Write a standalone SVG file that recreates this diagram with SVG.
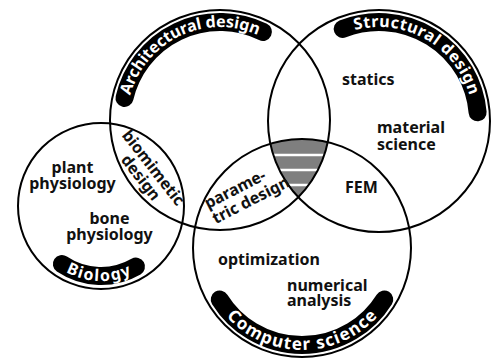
<svg xmlns="http://www.w3.org/2000/svg" width="499" height="360" viewBox="0 0 499 360">
<style>
.ring{fill:none;stroke:#000;stroke-width:2}
.band{fill:none;stroke:#000;stroke-width:18;stroke-linecap:round}
.lbl{fill:#fff;font-family:"Noto Sans","DejaVu Sans",sans-serif;font-weight:700;font-size:16px}
.t{fill:#111;font-family:"Noto Sans","DejaVu Sans",sans-serif;font-weight:700;font-size:16px}
.c{text-anchor:middle}
</style>
<defs>
<clipPath id="cA"><circle cx="220" cy="120" r="110"/></clipPath>
<clipPath id="cS"><circle cx="379" cy="121" r="111"/></clipPath>
<clipPath id="cC"><circle cx="302" cy="248" r="109"/></clipPath>
<path id="pA" d="M129.38,99.07 A93,93 0 0 1 260.77,36.41"/>
<path id="pS" d="M344.55,33.54 A94,94 0 0 1 472.64,112.8"/>
<path id="pB" d="M59.06,268.18 A75,75 0 0 0 138.5,270.95"/>
<path id="pC" d="M215.5,302.05 A102,102 0 0 0 388.5,302.05"/>
</defs>
<rect width="499" height="360" fill="#fff"/>

<g id="overlap-all">
<g clip-path="url(#cC)"><g clip-path="url(#cS)"><g clip-path="url(#cA)">
<rect x="240" y="130" width="110" height="80" fill="#7f7f7f"/>
<path d="M240,155H350M240,170H350M240,185H350" stroke="#fff" stroke-width="2.5"/>
</g></g></g>
</g>

<g id="architectural">
<circle class="ring" cx="220" cy="120" r="110"/>
<path class="band" d="M124.5,97.95 A98,98 0 0 1 262.96,31.92"/>
<text class="lbl"><textPath href="#pA" startOffset="50%" text-anchor="middle" textLength="160">Architectural design</textPath></text>
</g>

<g id="structural">
<circle class="ring" cx="379" cy="121" r="111"/>
<path class="band" d="M342.72,28.89 A99,99 0 0 1 477.62,112.37"/>
<text class="lbl"><textPath href="#pS" startOffset="48%" text-anchor="middle" textLength="146">Structural design</textPath></text>
<text class="t" x="342" y="85">statics</text>
<text class="t" x="377" y="133">material</text>
<text class="t" x="377" y="150">science</text>
<text class="t" x="345" y="193">FEM</text>
</g>

<g id="biology">
<circle class="ring" cx="101" cy="206" r="83"/>
<path class="band" d="M61.86,264.03 A70,70 0 0 0 136,266.62"/>
<text class="lbl"><textPath href="#pB" startOffset="50%" text-anchor="middle" textLength="68">Biology</textPath></text>
<text class="t c" x="72.5" y="173">plant</text>
<text class="t c" x="72.5" y="189">physiology</text>
<text class="t c" x="109.5" y="224">bone</text>
<text class="t c" x="109.5" y="240">physiology</text>
</g>

<g id="computer-science">
<circle class="ring" cx="302" cy="248" r="109"/>
<path class="band" d="M219.74,299.4 A97,97 0 0 0 384.26,299.4"/>
<text class="lbl" style="font-size:17px"><textPath href="#pC" startOffset="50%" text-anchor="middle" textLength="170">Computer science</textPath></text>
<text class="t" x="218" y="265">optimization</text>
<text class="t" x="287" y="291">numerical</text>
<text class="t" x="287" y="306">analysis</text>
</g>

<g id="biomimetic-design" transform="translate(153,168) rotate(52)">
<text class="t c" x="0" y="5">biomimetic</text>
<text class="t c" x="0" y="21">design</text>
</g>

<g id="parametric-design" transform="translate(208,209) rotate(-27)">
<text class="t" x="0" y="0">parame-</text>
<text class="t" x="0" y="17">tric design</text>
</g>
</svg>
